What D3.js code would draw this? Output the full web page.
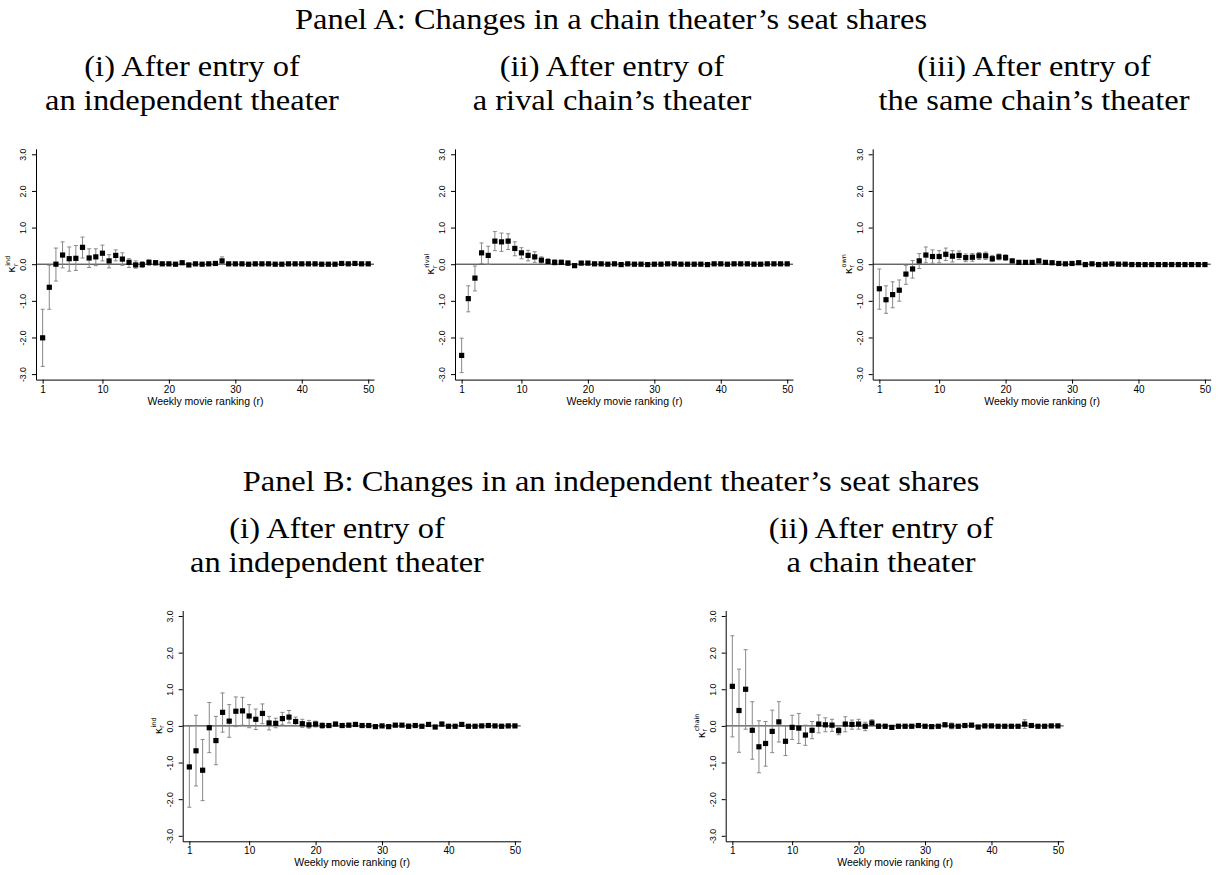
<!DOCTYPE html>
<html lang="en">
<head>
<meta charset="UTF-8">
<title>Seat share changes after theater entry</title>
<script src="https://cdn.jsdelivr.net/npm/d3@7"></script>
<style>
  body { margin: 0; background: #fff; }
  .ttl { font-family: "Liberation Serif", "Times New Roman", serif; fill: #000; }
  .ax text { font-family: "Liberation Sans", Arial, sans-serif; fill: #000; }
  .ax path, .ax line { stroke: #000; }
</style>
</head>
<body>
<svg id="fig" width="1222" height="875"></svg>
<script>
// ranks on the x axis, ticks
const ranks = d3.range(1, 51);
const yTicks = [-3, -2, -1, 0, 1, 2, 3];
const xTicks = [1, 10, 20, 30, 40, 50];

// Panel A (i): chain theater, entry of independent
const aIndEst = [-2.01,-0.63,0.00,0.25,0.15,0.16,0.46,0.17,0.20,0.30,0.09,0.24,0.14,0.05,-0.02,-0.01,0.05,0.04,0.01,0.01,0.00,0.04,-0.02,0.01,0.00,0.01,0.02,0.09,0.01,0.01,0.01,0.00,0.01,0.01,0.01,0.00,0.00,0.01,0.01,0.01,0.01,0.01,0.00,0.00,0.00,0.02,0.01,0.02,0.01,0.01];
const aIndHi  = [-1.23,-0.03,0.44,0.61,0.47,0.51,0.74,0.42,0.42,0.52,0.26,0.39,0.31,0.15,0.09,0.07,0.12,0.09,0.05,0.05,0.04,0.08,0.02,0.04,0.03,0.04,0.05,0.20,0.04,0.04,0.04,0.03,0.04,0.04,0.04,0.03,0.03,0.04,0.04,0.03,0.03,0.04,0.03,0.03,0.03,0.05,0.04,0.05,0.04,0.04];
const aIndLo  = [-2.79,-1.23,-0.46,-0.10,-0.19,-0.17,0.17,-0.09,-0.04,0.09,-0.10,0.09,-0.03,-0.09,-0.11,-0.09,-0.03,-0.02,-0.03,-0.03,-0.04,0.00,-0.06,-0.02,-0.03,-0.02,-0.01,0.00,-0.02,-0.02,-0.02,-0.03,-0.02,-0.02,-0.02,-0.03,-0.03,-0.02,-0.02,-0.01,-0.01,-0.02,-0.03,-0.03,-0.03,-0.01,-0.02,-0.01,-0.02,-0.02];

// Panel A (ii): entry of rival chain
const aRivEst = [-2.49,-0.94,-0.38,0.31,0.24,0.63,0.61,0.63,0.43,0.31,0.24,0.20,0.11,0.07,0.05,0.05,0.03,-0.04,0.03,0.03,0.01,0.01,0.00,0.01,-0.01,0.01,0.00,0.00,-0.01,0.00,0.00,0.01,0.01,0.00,0.00,0.00,0.00,-0.01,0.01,0.01,0.00,0.01,0.01,0.01,0.00,0.00,0.01,0.01,0.01,0.01];
const aRivHi  = [-2.02,-0.59,-0.05,0.58,0.49,0.89,0.85,0.83,0.61,0.45,0.38,0.34,0.20,0.15,0.12,0.11,0.09,0.01,0.07,0.07,0.04,0.04,0.03,0.04,0.02,0.04,0.03,0.03,0.02,0.03,0.03,0.04,0.04,0.03,0.03,0.03,0.03,0.02,0.04,0.04,0.03,0.04,0.04,0.04,0.03,0.03,0.04,0.04,0.04,0.04];
const aRivLo  = [-2.96,-1.30,-0.73,0.02,0.00,0.37,0.35,0.40,0.23,0.15,0.09,0.05,0.02,0.00,-0.02,-0.01,-0.03,-0.09,-0.01,-0.01,-0.02,-0.02,-0.03,-0.02,-0.04,-0.02,-0.03,-0.03,-0.04,-0.03,-0.03,-0.02,-0.02,-0.03,-0.03,-0.03,-0.03,-0.04,-0.02,-0.02,-0.03,-0.02,-0.02,-0.02,-0.03,-0.03,-0.02,-0.02,-0.02,-0.02];

// Panel A (iii): entry of same chain
const aOwnEst = [-0.67,-0.97,-0.83,-0.71,-0.27,-0.13,0.09,0.25,0.21,0.21,0.27,0.22,0.24,0.18,0.19,0.23,0.23,0.15,0.20,0.18,0.09,0.05,0.05,0.05,0.09,0.05,0.04,0.02,0.01,0.02,0.04,-0.01,0.01,-0.01,0.00,0.01,0.00,0.00,-0.01,-0.01,-0.01,-0.01,-0.01,-0.01,-0.01,-0.01,-0.01,-0.01,-0.01,-0.01];
const aOwnHi  = [-0.13,-0.59,-0.48,-0.43,-0.03,0.10,0.29,0.47,0.39,0.37,0.44,0.37,0.36,0.28,0.29,0.32,0.33,0.24,0.28,0.26,0.14,0.09,0.09,0.09,0.14,0.09,0.08,0.05,0.04,0.05,0.07,0.02,0.04,0.02,0.03,0.04,0.03,0.03,0.02,0.02,0.02,0.02,0.02,0.02,0.02,0.02,0.02,0.02,0.02,0.02];
const aOwnLo  = [-1.23,-1.34,-1.19,-1.01,-0.55,-0.38,-0.12,0.04,0.03,0.04,0.10,0.06,0.13,0.07,0.08,0.13,0.13,0.07,0.12,0.10,0.04,0.01,0.01,0.01,0.04,0.01,0.00,-0.01,-0.02,-0.01,0.01,-0.04,-0.02,-0.04,-0.03,-0.02,-0.03,-0.03,-0.04,-0.04,-0.04,-0.04,-0.04,-0.04,-0.04,-0.04,-0.04,-0.04,-0.04,-0.04];

// Panel B (i): independent theater, entry of independent
const bIndEst = [-1.12,-0.68,-1.21,-0.05,-0.40,0.37,0.13,0.40,0.41,0.27,0.18,0.34,0.08,0.07,0.20,0.24,0.12,0.06,0.03,0.05,0.01,0.01,0.05,0.01,0.02,0.04,0.01,0.01,-0.02,0.00,-0.02,0.02,0.02,-0.01,0.01,-0.01,0.04,-0.03,0.05,-0.01,-0.01,0.04,-0.01,-0.01,0.00,0.01,0.00,-0.01,0.00,0.00];
const bIndHi  = [-0.01,0.29,-0.37,0.64,0.26,0.90,0.58,0.79,0.78,0.58,0.46,0.60,0.26,0.21,0.37,0.42,0.24,0.18,0.15,0.13,0.08,0.06,0.10,0.05,0.07,0.08,0.05,0.04,0.02,0.04,0.02,0.06,0.06,0.05,0.05,0.03,0.08,0.01,0.10,0.03,0.03,0.09,0.03,0.03,0.04,0.04,0.03,0.02,0.03,0.03];
const bIndLo  = [-2.22,-1.64,-2.04,-0.73,-1.06,-0.17,-0.31,-0.02,0.02,-0.05,-0.10,0.06,-0.11,-0.05,0.03,0.08,0.00,-0.04,-0.06,-0.03,-0.06,-0.04,0.00,-0.03,-0.03,0.00,-0.03,-0.02,-0.06,-0.04,-0.06,-0.02,-0.02,-0.07,-0.03,-0.05,0.00,-0.07,0.00,-0.05,-0.05,-0.01,-0.05,-0.05,-0.04,-0.02,-0.03,-0.04,-0.03,-0.03];

// Panel B (ii): entry of chain
const bChEst = [1.08,0.42,1.00,-0.12,-0.57,-0.48,-0.15,0.11,-0.42,-0.04,-0.06,-0.25,-0.12,0.05,0.03,0.02,-0.13,0.05,0.04,0.05,-0.01,0.08,-0.01,-0.01,-0.04,-0.01,-0.01,-0.01,0.01,-0.01,-0.02,-0.01,0.03,0.00,-0.01,0.01,0.02,-0.03,0.00,0.00,-0.01,-0.01,-0.01,-0.01,0.05,0.01,-0.01,-0.01,0.00,0.00];
const bChHi  = [2.46,1.55,2.08,0.66,0.14,0.12,0.43,0.66,-0.01,0.29,0.34,0.02,0.12,0.30,0.22,0.18,-0.04,0.25,0.16,0.18,0.10,0.17,0.05,0.04,0.01,0.04,0.04,0.03,0.05,0.03,0.02,0.03,0.08,0.08,0.03,0.05,0.07,0.01,0.04,0.04,0.03,0.03,0.03,0.03,0.17,0.04,0.02,0.02,0.03,0.03];
const bChLo  = [-0.30,-0.72,-0.09,-0.91,-1.28,-1.10,-0.73,-0.44,-0.81,-0.37,-0.48,-0.53,-0.35,-0.19,-0.16,-0.15,-0.24,-0.16,-0.09,-0.09,-0.13,0.00,-0.07,-0.06,-0.09,-0.06,-0.06,-0.05,-0.03,-0.05,-0.06,-0.05,-0.02,-0.08,-0.05,-0.03,-0.03,-0.07,-0.04,-0.04,-0.05,-0.05,-0.05,-0.05,-0.07,-0.02,-0.04,-0.04,-0.03,-0.03];

const svg = d3.select("#fig");

const panels = [
  {x0: 36,    y3: 154.3, tx: 192,  sup: "ind",   est: aIndEst, lo: aIndLo, hi: aIndHi, sub: ["(i) After entry of", "an independent theater"]},
  {x0: 455,   y3: 154.3, tx: 612,  sup: "rival", est: aRivEst, lo: aRivLo, hi: aRivHi, sub: ["(ii) After entry of", "a rival chain\u2019s theater"]},
  {x0: 872.7, y3: 154.3, tx: 1034, sup: "own",   est: aOwnEst, lo: aOwnLo, hi: aOwnHi, sub: ["(iii) After entry of", "the same chain\u2019s theater"]},
  {x0: 182.7, y3: 616,   tx: 337,  sup: "ind",   est: bIndEst, lo: bIndLo, hi: bIndHi, sub: ["(i) After entry of", "an independent theater"]},
  {x0: 725.7, y3: 616,   tx: 881,  sup: "chain", est: bChEst,  lo: bChLo,  hi: bChHi,  sub: ["(ii) After entry of", "a chain theater"]}
];

// serif text, stretched a little so it runs as wide as the TeX face
function heading(x, y, str) {
  svg.append("g").attr("transform", `translate(${x},${y}) scale(1.12,1)`)
    .append("text").attr("class", "ttl")
    .attr("text-anchor", "middle").attr("font-size", 29)
    .text(str);
}

heading(611, 29, "Panel A: Changes in a chain theater\u2019s seat shares");
heading(611, 491, "Panel B: Changes in an independent theater\u2019s seat shares");

function drawPanel(p) {
  const x = d3.scaleLinear().domain([0, 50.87]).range([p.x0, p.x0 + 338]);
  const y = d3.scaleLinear().domain([-3.15, 3.15]).range([p.y3 + 225.3, p.y3 - 5.5]);
  const bot = y(-3.15);
  const g = svg.append("g");

  heading(p.tx, p.y3 - 78, p.sub[0]);
  heading(p.tx, p.y3 - 44, p.sub[1]);

  // zero line
  g.append("line")
    .attr("x1", x(0)).attr("x2", x(50.87))
    .attr("y1", y(0)).attr("y2", y(0))
    .attr("stroke", "#222").attr("stroke-width", 1);

  // y axis
  const ya = g.append("g").attr("class", "ax")
    .attr("transform", `translate(${p.x0},0)`)
    .call(d3.axisLeft(y).tickValues(yTicks).tickSize(4).tickSizeOuter(0)
      .tickFormat(d => d.toFixed(1)));
  ya.selectAll("text")
    .attr("font-size", 8.7)
    .attr("transform", "rotate(-90)")
    .attr("x", 0).attr("y", -10).attr("dy", 0)
    .attr("text-anchor", "middle");

  // x axis
  const xa = g.append("g").attr("class", "ax")
    .attr("transform", `translate(0,${bot})`)
    .call(d3.axisBottom(x).tickValues(xTicks).tickSize(4).tickSizeOuter(0));
  xa.selectAll("text").attr("font-size", 10).attr("y", 6);
  xa.append("text")
    .attr("x", x(25.5)).attr("y", 25)
    .attr("text-anchor", "middle").attr("font-size", 10.5)
    .text("Weekly movie ranking (r)");

  // y title: kappa_r^sup
  const yt = g.append("text")
    .attr("transform", `translate(${p.x0 - 21},${y(0)}) rotate(-90)`)
    .attr("text-anchor", "middle")
    .attr("font-family", "\"DejaVu Sans\", sans-serif")
    .attr("font-size", 11);
  yt.append("tspan").text("\u03ba");
  yt.append("tspan").attr("font-size", 7).attr("dy", 2.5).text("r");
  yt.append("tspan").attr("font-size", 6.5).attr("dx", -2.5).attr("dy", -8).text(p.sup);

  // error bars
  const rows = ranks.map((r, i) => ({r: r, est: p.est[i], lo: p.lo[i], hi: p.hi[i]}));
  const bars = g.append("g").attr("stroke", "#888").attr("stroke-width", 1);
  bars.selectAll("line.v").data(rows).join("line").attr("class", "v")
    .attr("x1", d => x(d.r)).attr("x2", d => x(d.r))
    .attr("y1", d => y(d.hi)).attr("y2", d => y(d.lo));
  bars.selectAll("line.ct").data(rows).join("line").attr("class", "ct")
    .attr("x1", d => x(d.r) - 2).attr("x2", d => x(d.r) + 2)
    .attr("y1", d => y(d.hi)).attr("y2", d => y(d.hi));
  bars.selectAll("line.cb").data(rows).join("line").attr("class", "cb")
    .attr("x1", d => x(d.r) - 2).attr("x2", d => x(d.r) + 2)
    .attr("y1", d => y(d.lo)).attr("y2", d => y(d.lo));

  // point estimates
  g.append("g").selectAll("rect").data(rows).join("rect")
    .attr("x", d => x(d.r) - 2.6).attr("y", d => y(d.est) - 2.6)
    .attr("width", 5.2).attr("height", 5.2)
    .attr("fill", "#000");
}

panels.forEach(drawPanel);
</script>
</body>
</html>
